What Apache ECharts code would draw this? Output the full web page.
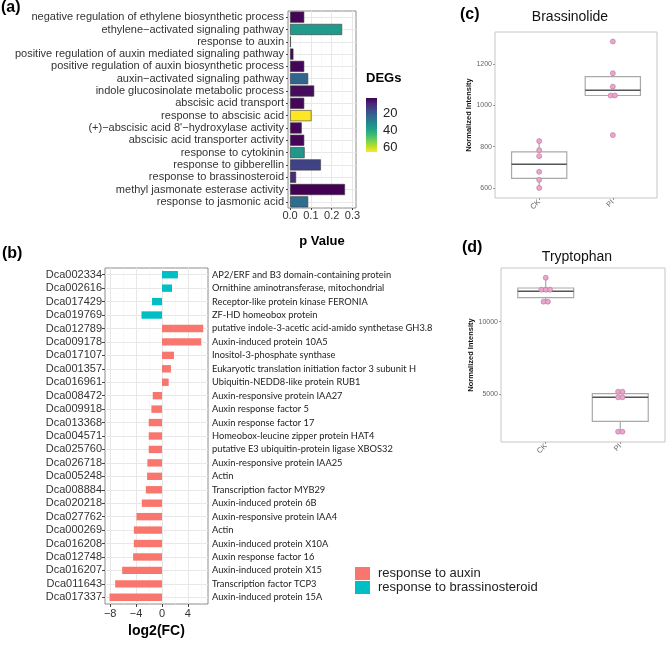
<!DOCTYPE html>
<html><head><meta charset="utf-8">
<script src="https://cdn.jsdelivr.net/npm/echarts@6/dist/echarts.min.js"></script>
<style>html,body{margin:0;padding:0;background:#fff}#c{width:667px;height:646px}</style>
</head><body><div id="c"></div>
<script>
// ---------- Panel (a): GO enrichment ----------
const goTerms = [
  'negative regulation of ethylene biosynthetic process',
  'ethylene\u2212activated signaling pathway',
  'response to auxin',
  'positive regulation of auxin mediated signaling pathway',
  'positive regulation of auxin biosynthetic process',
  'auxin\u2212activated signaling pathway',
  'indole glucosinolate metabolic process',
  'abscisic acid transport',
  'response to abscisic acid',
  "(+)\u2212abscisic acid 8'\u2212hydroxylase activity",
  'abscisic acid transporter activity',
  'response to cytokinin',
  'response to gibberellin',
  'response to brassinosteroid',
  'methyl jasmonate esterase activity',
  'response to jasmonic acid'
];
const goPValue = [0.068, 0.25, 0.004, 0.016, 0.068, 0.087, 0.116, 0.068, 0.103, 0.056, 0.068, 0.07, 0.148, 0.029, 0.264, 0.087];
const goDEGs   = [2, 36, 45, 2, 2, 22, 3, 2, 66, 2, 2, 35, 14, 9, 1, 24];
const pTicks = [0, 0.1, 0.2, 0.3];
const pMinorTicks = [0.05, 0.15, 0.25];
const degTicks = [20, 40, 60];
const degRange = [1, 66];

// ---------- Panel (b): log2 fold change ----------
const geneIds = ['Dca002334','Dca002616','Dca017429','Dca019769','Dca012789','Dca009178','Dca017107','Dca001357','Dca016961','Dca008472','Dca009918','Dca013368','Dca004571','Dca025760','Dca026718','Dca005248','Dca008884','Dca020218','Dca027762','Dca000269','Dca016208','Dca012748','Dca016207','Dca011643','Dca017337'];
const geneNames = ['AP2/ERF and B3 domain-containing protein','Ornithine aminotransferase, mitochondrial','Receptor-like protein kinase FERONIA','ZF-HD homeobox protein','putative indole-3-acetic acid-amido synthetase GH3.8','Auxin-induced protein 10A5','Inositol-3-phosphate synthase','Eukaryotic translation initiation factor 3 subunit H','Ubiquitin-NEDD8-like protein RUB1','Auxin-responsive protein IAA27','Auxin response factor 5','Auxin response factor 17','Homeobox-leucine zipper protein HAT4','putative E3 ubiquitin-protein ligase XBOS32','Auxin-responsive protein IAA25','Actin','Transcription factor MYB29','Auxin-induced protein 6B','Auxin-responsive protein IAA4','Actin','Auxin-induced protein X10A','Auxin response factor 16','Auxin-induced protein X15','Transcription factor TCP3','Auxin-induced protein 15A'];
const geneLog2FC = [2.46, 1.54, -1.54, -3.17, 6.37, 6.06, 1.85, 1.38, 1.03, -1.43, -1.64, -2.05, -2.05, -2.05, -2.26, -2.3, -2.5, -3.12, -3.94, -4.35, -4.35, -4.46, -6.15, -7.23, -8.1];
const geneGroup = [1,1,1,1,0,0,0,0,0,0,0,0,0,0,0,0,0,0,0,0,0,0,0,0,0];
const groupNames = ['response to auxin', 'response to brassinosteroid'];
const fcTicks = [-8, -4, 0, 4];
const fcMinorTicks = [-6, -2, 2, 6];

// ---------- Panels (c), (d): metabolites ----------
const sampleGroups = ['CK', 'PI'];
const brassCK = [600, 639, 678, 754, 783, 827];
const brassPI = [856, 1048, 1048, 1091, 1156, 1310];
const brassBox = [[600, 646, 715, 775, 827], [1048, 1048, 1074, 1140, 1156]]; // [low, Q1, median, Q3, high]
const brassTicks = [600, 800, 1000, 1200];
const trpCK = [11377, 11377, 12204, 12204, 12204, 13030];
const trpPI = [2424, 2424, 4793, 4793, 5179, 5179];
const trpBox = [[11377, 11653, 12094, 12321, 13030], [2424, 3140, 4793, 5041, 5179]];
const trpTicks = [5000, 10000];

const viridis = ['#440154','#482878','#3e4989','#31688e','#26828e','#1f9e89','#35b779','#6ece58','#b5de2b','#fde725'];
const FONT = 'Liberation Sans, Arial, sans-serif';

function dodge(vals, gi, step) {
  const counts = {}, seen = {};
  vals.forEach(v => counts[v] = (counts[v] || 0) + 1);
  return vals.map(v => {
    const n = counts[v];
    const k = seen[v] = (seen[v] === undefined ? 0 : seen[v] + 1);
    return [gi + (k - (n - 1) / 2) * step, v];
  });
}

function boxSeries(xi, yi, stats) {
  return {
    type: 'custom', xAxisIndex: xi, yAxisIndex: yi, z: 2,
    data: stats.map((s, i) => [i + 1].concat(s)),
    renderItem: function (params, api) {
      const x = api.value(0);
      const c = v => api.coord([x, v]);
      const lo = c(api.value(1)), q1 = c(api.value(2)), med = c(api.value(3)), q3 = c(api.value(4)), hi = c(api.value(5));
      const l = api.coord([x - 0.375, api.value(3)])[0], r = api.coord([x + 0.375, api.value(3)])[0];
      const ws = { stroke: '#a9a9a9', lineWidth: 1.2 };
      return { type: 'group', children: [
        { type: 'line', shape: { x1: lo[0], y1: lo[1], x2: q1[0], y2: q1[1] }, style: ws },
        { type: 'line', shape: { x1: q3[0], y1: q3[1], x2: hi[0], y2: hi[1] }, style: ws },
        { type: 'rect', shape: { x: l, y: q3[1], width: r - l, height: q1[1] - q3[1] }, style: { fill: '#fff', stroke: '#a9a9a9', lineWidth: 1.2 } },
        { type: 'line', shape: { x1: l, y1: med[1], x2: r, y2: med[1] }, style: { stroke: '#555', lineWidth: 1.5 } }
      ] };
    }
  };
}
function dotSeries(xi, yi, a, b) {
  return {
    type: 'scatter', xAxisIndex: xi, yAxisIndex: yi, z: 3,
    symbolSize: 5,
    itemStyle: { color: '#eba6cb', borderColor: '#b9719a', borderWidth: 0.6, opacity: 1 },
    data: dodge(a, 1, 0.058).concat(dodge(b, 2, 0.058))
  };
}

function minorAxis(gridIndex, min, max, ticks) {
  return { type: 'value', gridIndex, min, max, position: 'bottom',
    axisLine: { show: false, onZero: false }, axisLabel: { show: false },
    axisTick: { show: false, customValues: ticks },
    splitLine: { show: true, lineStyle: { color: '#f3f3f3', width: 0.6 } } };
}
function groupXAxis(gridIndex) {
  return { type: 'value', gridIndex, min: 0.4, max: 2.6,
    axisLine: { show: false, onZero: false },
    axisTick: { show: true, customValues: [1, 2], length: 2, lineStyle: { color: '#999' } },
    axisLabel: { customValues: [1, 2], formatter: v => sampleGroups[v - 1], rotate: 45, fontSize: 7.5, color: '#666', margin: 3, fontFamily: FONT },
    splitLine: { show: false } };
}
function intensityYAxis(gridIndex, min, max, ticks) {
  return { type: 'value', gridIndex, min, max,
    axisLine: { show: false, onZero: false },
    axisTick: { show: true, customValues: ticks, length: 2, lineStyle: { color: '#999' } },
    axisLabel: { customValues: ticks, formatter: v => String(v), fontSize: 7, color: '#666', margin: 3, fontFamily: FONT },
    splitLine: { show: false },
    name: 'Normalized Intensity', nameLocation: 'middle', nameGap: 21,
    nameTextStyle: { fontSize: 7.5, fontWeight: 'bold', color: '#111', fontFamily: FONT } };
}

const chart = echarts.init(document.getElementById('c'), null, { renderer: 'canvas' });
const option = {
  animation: false,
  backgroundColor: '#fff',
  textStyle: { fontFamily: FONT },
  grid: [
    { left: 288, top: 11, width: 68, height: 197, show: true, borderColor: '#8c8c8c', borderWidth: 1, backgroundColor: '#fff', containLabel: false, outerBoundsMode: 'none' },
    { left: 366, top: 98, width: 11, height: 54, show: false, containLabel: false, outerBoundsMode: 'none' },
    { left: 105, top: 268, width: 103, height: 336, show: true, borderColor: '#8c8c8c', borderWidth: 1, backgroundColor: '#fff', containLabel: false, outerBoundsMode: 'none' },
    { left: 495, top: 32, width: 162, height: 166, show: true, borderColor: '#c6c6c6', borderWidth: 1, containLabel: false, outerBoundsMode: 'none' },
    { left: 501, top: 268, width: 164, height: 174, show: true, borderColor: '#c6c6c6', borderWidth: 1, containLabel: false, outerBoundsMode: 'none' }
  ],
  xAxis: [
    { type: 'value', gridIndex: 0, min: -0.01, max: 0.317, position: 'bottom',
      axisLine: { show: false, onZero: false },
      axisTick: { show: true, customValues: pTicks, length: 2, lineStyle: { color: '#444' } },
      axisLabel: { customValues: pTicks, formatter: v => v.toFixed(1), fontSize: 11, color: '#333', margin: 2, fontFamily: FONT },
      splitLine: { show: true, lineStyle: { color: '#e8e8e8', width: 1 } },
      name: 'p Value', nameLocation: 'middle', nameGap: 27,
      nameTextStyle: { fontSize: 13, fontWeight: 'bold', color: '#000', fontFamily: FONT } },
    minorAxis(0, -0.01, 0.317, pMinorTicks),
    { type: 'value', gridIndex: 1, min: 0, max: 1, show: false },
    { type: 'value', gridIndex: 2, min: -8.8, max: 7.1, position: 'bottom',
      axisLine: { show: false, onZero: false },
      axisTick: { show: true, customValues: fcTicks, length: 3, lineStyle: { color: '#444' } },
      axisLabel: { customValues: fcTicks, formatter: v => (v < 0 ? '\u2212' + (-v) : String(v)), fontSize: 11, color: '#333', margin: 4, fontFamily: FONT },
      splitLine: { show: true, lineStyle: { color: '#e8e8e8', width: 1 } },
      name: 'log2(FC)', nameLocation: 'middle', nameGap: 20,
      nameTextStyle: { fontSize: 14, fontWeight: 'bold', color: '#000', fontFamily: FONT } },
    minorAxis(2, -8.8, 7.1, fcMinorTicks),
    groupXAxis(3),
    groupXAxis(4)
  ],
  yAxis: [
    { type: 'category', gridIndex: 0, data: goTerms, inverse: true,
      axisLine: { show: false, onZero: false },
      axisTick: { show: true, alignWithLabel: true, length: 2, lineStyle: { color: '#444' } },
      axisLabel: { interval: 0, fontSize: 11, color: '#333', margin: 4, fontFamily: FONT },
      splitLine: { show: true, alignWithLabel: true, interval: 0, lineStyle: { color: '#e8e8e8' } } },
    { type: 'value', gridIndex: 1, min: degRange[0], max: degRange[1], inverse: true, position: 'right',
      axisLine: { show: false, onZero: false },
      axisTick: { show: false, customValues: degTicks },
      axisLabel: { customValues: degTicks, fontSize: 13, color: '#222', margin: 6, fontFamily: FONT },
      splitLine: { show: false } },
    { type: 'category', gridIndex: 2, data: geneIds, inverse: true, position: 'left',
      axisLine: { show: false, onZero: false },
      axisTick: { show: true, alignWithLabel: true, length: 3, lineStyle: { color: '#444' } },
      axisLabel: { interval: 0, fontSize: 11, color: '#333', margin: 3, fontFamily: FONT },
      splitLine: { show: true, alignWithLabel: true, interval: 0, lineStyle: { color: '#e8e8e8' } } },
    { type: 'category', gridIndex: 2, data: geneIds, inverse: true, position: 'right',
      axisLine: { show: false, onZero: false }, axisTick: { show: false },
      axisLabel: { interval: 0, formatter: (v, i) => geneNames[i], fontSize: 9.3, color: '#222', margin: 4, fontFamily: 'Lato, sans-serif', align: 'left' },
      splitLine: { show: false } },
    intensityYAxis(3, 551, 1356, brassTicks),
    intensityYAxis(4, 1715, 13698, trpTicks)
  ],
  visualMap: [{
    type: 'continuous', show: false, min: degRange[0], max: degRange[1], dimension: 2, seriesIndex: 0,
    inRange: { color: viridis }
  }],
  legend: {
    data: groupNames, orient: 'vertical', left: 355, top: 567, itemWidth: 15, itemHeight: 13, itemGap: 1,
    icon: 'rect', padding: 0, selectedMode: false,
    textStyle: { fontSize: 13, color: '#222', fontFamily: FONT, padding: [0, 0, 0, 3] }
  },
  series: [
    { type: 'bar', name: 'GO', xAxisIndex: 0, yAxisIndex: 0, barWidth: '90%',
      encode: { x: 0, y: 1 },
      itemStyle: { borderColor: '#3a3a3a', borderWidth: 0.6 },
      data: goPValue.map((v, i) => [v, goTerms[i], goDEGs[i]]) },
    { type: 'custom', xAxisIndex: 2, yAxisIndex: 1, silent: true,
      data: [[0, degRange[0], 1, degRange[1]]],
      renderItem: function (params, api) {
        const p0 = api.coord([api.value(0), api.value(1)]);
        const p1 = api.coord([api.value(2), api.value(3)]);
        return { type: 'rect', shape: { x: p0[0], y: Math.min(p0[1], p1[1]), width: p1[0] - p0[0], height: Math.abs(p1[1] - p0[1]) },
          style: { fill: new echarts.graphic.LinearGradient(0, 0, 0, 1, viridis.map((c, i) => ({ offset: i / (viridis.length - 1), color: c }))) } };
      } },
    { type: 'bar', name: groupNames[0], xAxisIndex: 3, yAxisIndex: 2, stack: 'fc', barWidth: '55%',
      itemStyle: { color: '#F8766D' },
      data: geneLog2FC.map((v, i) => geneGroup[i] === 0 ? v : '-') },
    { type: 'bar', name: groupNames[1], xAxisIndex: 3, yAxisIndex: 2, stack: 'fc', barWidth: '55%',
      itemStyle: { color: '#00BFC4' },
      data: geneLog2FC.map((v, i) => geneGroup[i] === 1 ? v : '-') },
    boxSeries(5, 4, brassBox),
    dotSeries(5, 4, brassCK, brassPI),
    boxSeries(6, 5, trpBox),
    dotSeries(6, 5, trpCK, trpPI)
  ],
  graphic: [
    { type: 'text', left: 1, top: 0, style: { text: '(a)', font: 'bold 16px ' + FONT, fill: '#000' } },
    { type: 'text', left: 2, top: 246, style: { text: '(b)', font: 'bold 16px ' + FONT, fill: '#000' } },
    { type: 'text', left: 460, top: 7, style: { text: '(c)', font: 'bold 16px ' + FONT, fill: '#000' } },
    { type: 'text', left: 462, top: 240, style: { text: '(d)', font: 'bold 16px ' + FONT, fill: '#000' } },
    { type: 'text', x: 570, y: 17, style: { text: 'Brassinolide', font: '14px ' + FONT, fill: '#111', textAlign: 'center', textVerticalAlign: 'middle' } },
    { type: 'text', x: 577, y: 257, style: { text: 'Tryptophan', font: '14px ' + FONT, fill: '#111', textAlign: 'center', textVerticalAlign: 'middle' } },
    { type: 'text', x: 366, y: 78, style: { text: 'DEGs', font: 'bold 13px ' + FONT, fill: '#000', textAlign: 'left', textVerticalAlign: 'middle' } }
  ]
};
chart.setOption(option);
</script>
</body></html>
